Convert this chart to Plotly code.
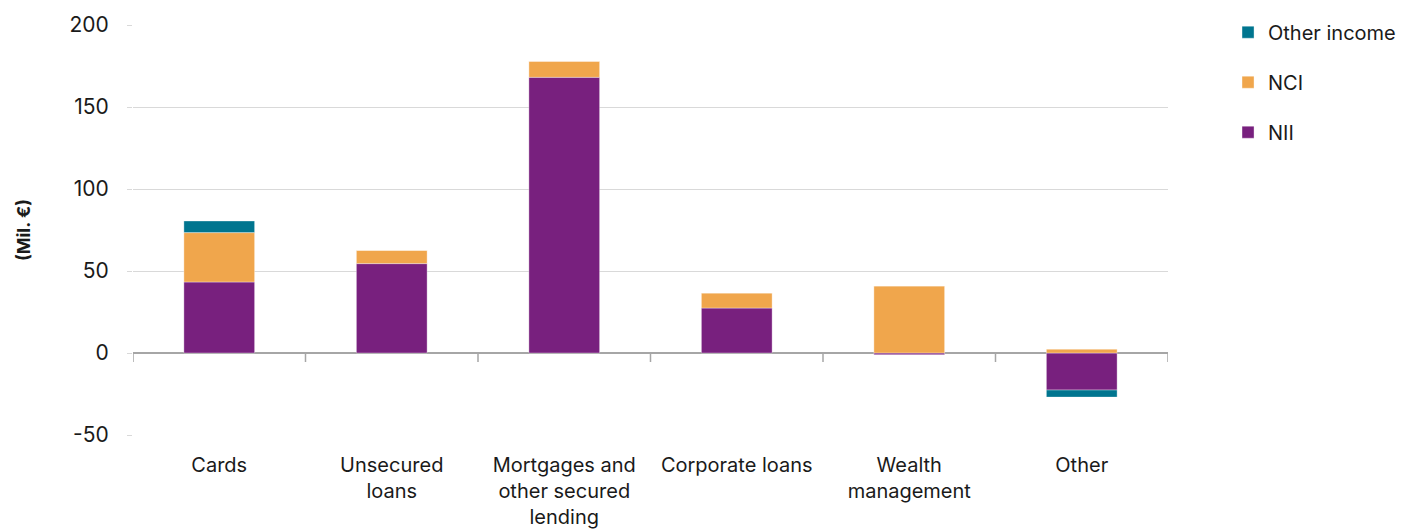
import plotly.graph_objects as go

categories = ["Cards", "Unsecured<br>loans", "Mortgages and<br>other secured<br>lending",
              "Corporate loans", "Wealth<br>management", "Other"]
nii = [43.3, 54.5, 168.1, 27.4, -1.0, -22.6]
nci = [30.1, 8.1, 9.8, 9.2, 40.9, 2.3]
other_income = [7.1, 0, 0, 0, 0, -4.3]
y_tickvals = [-50, 0, 50, 100, 150, 200]
y_ticktext = ["-50", "0", "50", "100", "150", "200"]

FONT = "Inter"
colors = {"NII": "#78207E", "NCI": "#F0A64C", "Other income": "#00758F"}
ranks = {"Other income": 1, "NCI": 2, "NII": 3}

fig = go.Figure()
for name, vals in [("NII", nii), ("NCI", nci), ("Other income", other_income)]:
    fig.add_trace(go.Bar(
        x=categories, y=vals, name=name, legendgroup=name, legendrank=ranks[name],
        marker=dict(color=colors[name], line=dict(color="rgba(255,255,255,0.35)", width=1)),
    ))

# category boundary tick marks along the zero line
n = len(categories)
for i in range(n + 1):
    fig.add_shape(type="line", xref="x", yref="y", x0=i - 0.5, x1=i - 0.5,
                  ysizemode="pixel", yanchor=0, y0=0, y1=-9,
                  line=dict(color="#a6a6a6", width=1.5))

fig.update_layout(
    width=1408, height=529,
    margin=dict(l=133, r=240, t=25, b=94, autoexpand=False),
    paper_bgcolor="white", plot_bgcolor="white",
    barmode="relative", bargap=0.59,
    font=dict(family=FONT, size=20, color="#1a1a1a"),
    legend=dict(x=1.058, y=1.03, xanchor="left", yanchor="top",
                traceorder="grouped", tracegroupgap=21,
                font=dict(size=20), itemwidth=30),
    xaxis=dict(showline=False, ticks="", showgrid=False, tickfont=dict(size=20),
               ticklabelstandoff=16, range=[-0.5, n - 0.5]),
    yaxis=dict(range=[-50, 200], tickvals=y_tickvals, ticktext=y_ticktext,
               showgrid=True, gridcolor="#d9d9d9", gridwidth=1,
               zeroline=True, zerolinecolor="#a6a6a6", zerolinewidth=1.5,
               ticks="outside", ticklen=5, tickcolor="#d9d9d9",
               ticklabelstandoff=14, tickfont=dict(size=21),
               title=dict(text="<b>(Mil. €)</b>", font=dict(size=18), standoff=34)),
)

fig.write_html("out.html")
